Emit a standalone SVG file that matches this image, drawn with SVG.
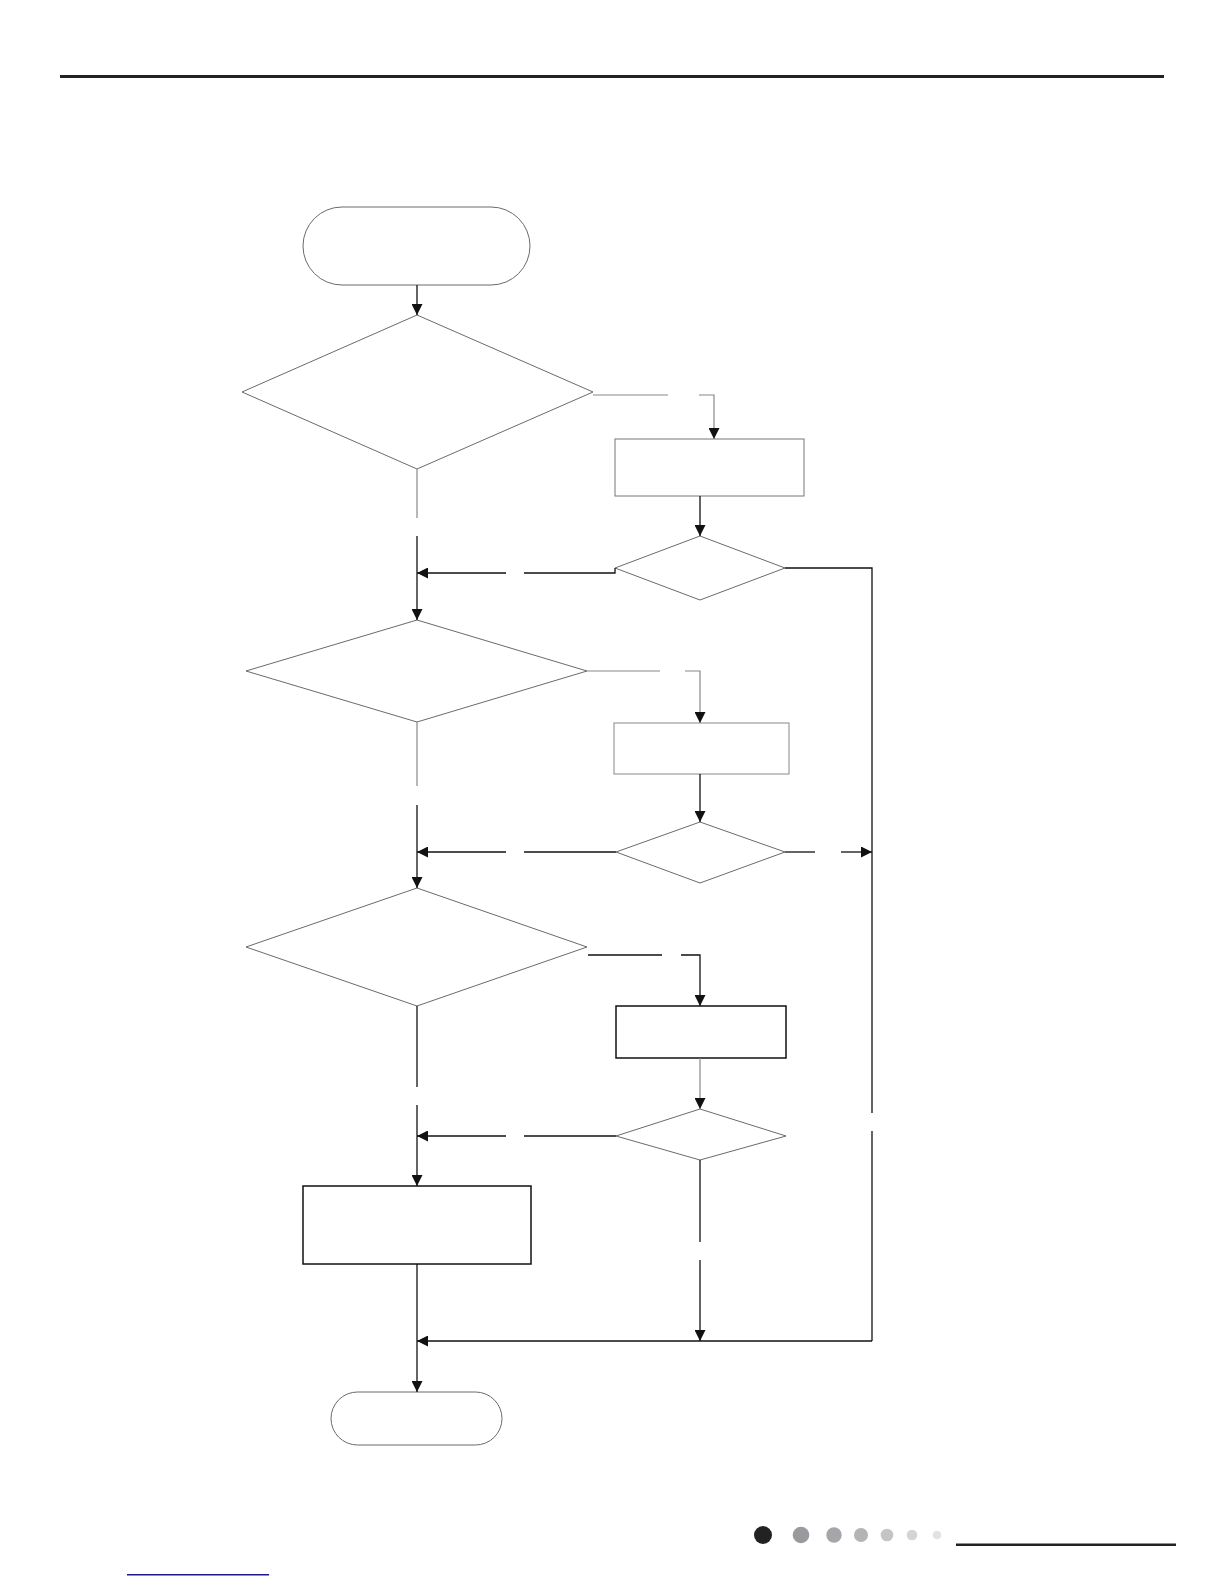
<svg xmlns="http://www.w3.org/2000/svg" width="1224" height="1584" viewBox="0 0 1224 1584">
<style>
.shape{fill:#fff;stroke:#6a6a6a;stroke-width:1}
.box{fill:#fff;stroke:#111;stroke-width:1.5}
.c{fill:none;stroke:#111;stroke-width:1.3}
.cg{fill:none;stroke:#888;stroke-width:1.2}
.a{marker-end:url(#ah)}
</style>
<defs>
<marker id="ah" markerUnits="userSpaceOnUse" markerWidth="11" markerHeight="11" refX="11" refY="5.5" orient="auto">
<path d="M0,0 L11,5.5 L0,11 z" fill="#111"/>
</marker>
</defs>
<rect x="60" y="75" width="1104" height="3" fill="#222"/>

<g id="start"><rect class="shape" x="303" y="207" width="227" height="78" rx="39"/></g>
<g id="d1"><polygon class="shape" points="417,315 593,392 417,469 242,392"/></g>
<g id="r1"><rect class="shape" x="615" y="439" width="189" height="57" style="stroke:#777"/></g>
<g id="d2"><polygon class="shape" points="700,536 785,568 700,600 615,568"/></g>
<g id="d3"><polygon class="shape" points="417,620 587,671 417,722 246,671"/></g>
<g id="r2"><rect class="shape" x="614" y="723" width="175" height="51" style="stroke:#888"/></g>
<g id="d4"><polygon class="shape" points="700,822 785,852 700,883 616,852"/></g>
<g id="d5"><polygon class="shape" points="417,888 587,947 417,1006 246,947"/></g>
<g id="r3"><rect class="box" x="616" y="1006" width="170" height="52"/></g>
<g id="d6"><polygon class="shape" points="700,1109 786,1136 700,1160 616,1136"/></g>
<g id="r4"><rect class="box" x="303" y="1186" width="228" height="78"/></g>
<g id="end"><rect class="shape" x="331" y="1392" width="171" height="53" rx="26.5"/></g>

<g id="connectors">
<line class="c a" x1="417" y1="285" x2="417" y2="315"/>
<!-- d1 yes -->
<line class="cg" x1="593" y1="395" x2="668" y2="395"/>
<polyline class="cg a" points="699,395 714,395 714,439"/>
<line class="c a" x1="700" y1="496" x2="700" y2="536"/>
<!-- d1 down -->
<line class="cg" x1="417" y1="469" x2="417" y2="518"/>
<line class="c a" x1="417" y1="536" x2="417" y2="620"/>
<!-- d2 left -->
<polyline class="c" points="615,568 615,573 524,573"/>
<line class="c a" x1="506" y1="573" x2="417" y2="573"/>
<!-- d2 right to right trunk -->
<polyline class="c" points="785,568 872,568 872,1113"/>
<polyline class="c" points="872,1131 872,1341"/>
<!-- d3 yes -->
<line class="cg" x1="587" y1="671" x2="660" y2="671"/>
<polyline class="cg a" points="685,671 700,671 700,723"/>
<line class="c a" x1="700" y1="774" x2="700" y2="822"/>
<!-- d3 down -->
<line class="cg" x1="417" y1="722" x2="417" y2="786"/>
<line class="c a" x1="417" y1="805" x2="417" y2="888"/>
<!-- d4 left -->
<line class="c" x1="616" y1="852" x2="524" y2="852"/>
<line class="c a" x1="506" y1="852" x2="417" y2="852"/>
<!-- d4 right -->
<line class="c" x1="785" y1="852" x2="815" y2="852"/>
<line class="c a" x1="841" y1="852" x2="872" y2="852"/>
<!-- d5 yes -->
<line class="c" x1="588" y1="955" x2="662" y2="955"/>
<polyline class="c a" points="681,955 700,955 700,1006"/>
<line class="cg a" x1="700" y1="1058" x2="700" y2="1109"/>
<!-- d5 down -->
<line class="c" x1="417" y1="1006" x2="417" y2="1087"/>
<line class="c a" x1="417" y1="1105" x2="417" y2="1186"/>
<!-- d6 left -->
<line class="c" x1="616" y1="1136" x2="524" y2="1136"/>
<line class="c a" x1="506" y1="1136" x2="417" y2="1136"/>
<!-- d6 down -->
<line class="c" x1="700" y1="1160" x2="700" y2="1242"/>
<line class="c a" x1="700" y1="1260" x2="700" y2="1341"/>
<!-- bottom merge -->
<line class="c a" x1="872" y1="1341" x2="417" y2="1341"/>
<line class="c a" x1="417" y1="1264" x2="417" y2="1392"/>
</g>

<circle cx="763" cy="1535" r="9" fill="#222"/>
<circle cx="801" cy="1535" r="8.3" fill="#9a9a9e"/>
<circle cx="834" cy="1535" r="7.7" fill="#a6a6aa"/>
<circle cx="861" cy="1535" r="7" fill="#b4b4b6"/>
<circle cx="887" cy="1535" r="6.3" fill="#c4c4c4"/>
<circle cx="912" cy="1535" r="5.3" fill="#d4d4d4"/>
<circle cx="937" cy="1535" r="4.3" fill="#e2e2e2"/>
<rect x="956" y="1543.5" width="220" height="2.5" fill="#222"/>
<rect x="127" y="1574" width="142" height="1.5" fill="#1a1a8c"/>
</svg>
